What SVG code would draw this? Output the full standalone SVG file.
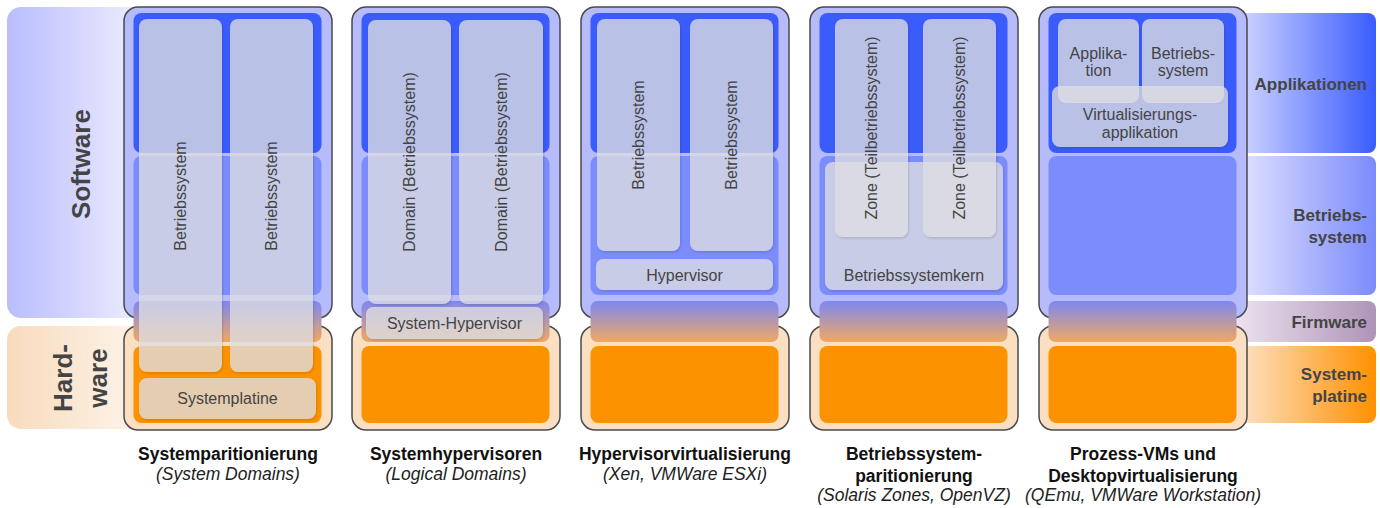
<svg xmlns="http://www.w3.org/2000/svg" xmlns:xlink="http://www.w3.org/1999/xlink" width="1380" height="508" viewBox="0 0 1380 508">
<style>
.sw{fill:#b6bbfc;stroke:#4a4a4a;stroke-width:1.5}
.hw{fill:#fbdfc3;stroke:#4a4a4a;stroke-width:1.5}
.app{fill:#3b5cfd}
.os{fill:#7b8cfb}
.fw{fill:url(#gFw)}
.mb{fill:#fd9200}
.box{fill:#e2e2e6;fill-opacity:0.75;filter:url(#sh)}
text{font-family:"Liberation Sans",Arial,sans-serif;fill:#444}
.t{font-size:16px;text-anchor:middle}
.lbl{font-size:17px;font-weight:bold;text-anchor:end}
.big{font-size:26px;font-weight:bold;text-anchor:middle}
.head{font-size:17.5px;font-weight:bold;fill:#111;text-anchor:middle}
.sub{font-size:17.5px;font-style:italic;fill:#222;text-anchor:middle}
</style>
<defs>
<linearGradient id="gFw" x1="0" y1="0" x2="0" y2="1">
<stop offset="0" stop-color="#7d87f3"/><stop offset="1" stop-color="#f0a862"/>
</linearGradient>
<linearGradient id="gSoft" x1="0" y1="0" x2="1" y2="0">
<stop offset="0" stop-color="#b9bdfd"/><stop offset="0.85" stop-color="#e8e8fe"/>
</linearGradient>
<linearGradient id="gHard" x1="0" y1="0" x2="1" y2="0">
<stop offset="0" stop-color="#f8dbbd"/><stop offset="0.85" stop-color="#fdf1e5"/>
</linearGradient>
<linearGradient id="gRApp" x1="0" y1="0" x2="1" y2="0">
<stop offset="0" stop-color="#d4d8ff"/><stop offset="1" stop-color="#3a5cfd"/>
</linearGradient>
<linearGradient id="gROs" x1="0" y1="0" x2="1" y2="0">
<stop offset="0" stop-color="#e2e4ff"/><stop offset="1" stop-color="#7b8bfb"/>
</linearGradient>
<linearGradient id="gRFw" x1="0" y1="0" x2="1" y2="0">
<stop offset="0" stop-color="#ece2ee"/><stop offset="1" stop-color="#ae94b8"/>
</linearGradient>
<linearGradient id="gRMb" x1="0" y1="0" x2="1" y2="0">
<stop offset="0" stop-color="#fde4c8"/><stop offset="1" stop-color="#ff9000"/>
</linearGradient>
<filter id="sh" x="-10%" y="-10%" width="120%" height="120%">
<feDropShadow dx="1" dy="1.5" stdDeviation="1" flood-color="#000" flood-opacity="0.18"/>
</filter>
<g id="frame">
<rect class="sw" x="0" y="7" width="208" height="311" rx="14"/>
<rect class="hw" x="0" y="326" width="208" height="104" rx="14"/>
<rect class="app" x="9.5" y="13" width="188" height="140" rx="8"/>
<rect class="os" x="9.5" y="156" width="188" height="139" rx="8"/>
<rect class="fw" x="9.5" y="301" width="188" height="41" rx="7"/>
<rect class="mb" x="9.5" y="346" width="188" height="77" rx="8"/>
</g>
</defs>

<g id="band-software">
<rect x="7" y="7" width="140" height="311" rx="14" fill="url(#gSoft)"/>
<text class="big" transform="translate(90,164) rotate(-90)">Software</text>
</g>
<g id="band-hardware">
<rect x="7" y="326" width="140" height="103" rx="14" fill="url(#gHard)"/>
<text class="big" transform="translate(72,378) rotate(-90)">Hard-</text>
<text class="big" transform="translate(107,378) rotate(-90)">ware</text>
</g>

<g id="band-applikationen">
<rect x="1236" y="13" width="140" height="140" rx="8" fill="url(#gRApp)"/>
<text class="lbl" x="1367" y="90">Applikationen</text>
</g>
<g id="band-betriebssystem">
<rect x="1236" y="156" width="140" height="139" rx="8" fill="url(#gROs)"/>
<text class="lbl" x="1367" y="221">Betriebs-</text>
<text class="lbl" x="1367" y="243">system</text>
</g>
<g id="band-firmware">
<rect x="1236" y="301" width="140" height="41" rx="8" fill="url(#gRFw)"/>
<text class="lbl" x="1367" y="328">Firmware</text>
</g>
<g id="band-systemplatine">
<rect x="1236" y="346" width="140" height="77" rx="8" fill="url(#gRMb)"/>
<text class="lbl" x="1367" y="380">System-</text>
<text class="lbl" x="1367" y="402">platine</text>
</g>

<g id="col1">
<use xlink:href="#frame" href="#frame" x="124"/>
<rect class="box" x="139" y="19" width="83" height="353" rx="8"/>
<rect class="box" x="230" y="19" width="83" height="353" rx="8"/>
<rect class="box" x="139" y="378" width="177" height="41" rx="8"/>
<text class="t" transform="translate(186,196) rotate(-90)">Betriebssystem</text>
<text class="t" transform="translate(277,196) rotate(-90)">Betriebssystem</text>
<text class="t" x="227.5" y="404">Systemplatine</text>
<text class="head" x="228" y="460">Systemparitionierung</text>
<text class="sub" x="228" y="480">(System Domains)</text>
</g>

<g id="col2">
<use xlink:href="#frame" href="#frame" x="352"/>
<rect class="box" x="368" y="20" width="83" height="284" rx="8"/>
<rect class="box" x="459" y="20" width="84" height="284" rx="8"/>
<rect class="box" x="366" y="307" width="177" height="32" rx="7"/>
<text class="t" transform="translate(415,162) rotate(-90)">Domain (Betriebssystem)</text>
<text class="t" transform="translate(506.5,162) rotate(-90)">Domain (Betriebssystem)</text>
<text class="t" x="454.5" y="329">System-Hypervisor</text>
<text class="head" x="456" y="460">Systemhypervisoren</text>
<text class="sub" x="456" y="480">(Logical Domains)</text>
</g>

<g id="col3">
<use xlink:href="#frame" href="#frame" x="581"/>
<rect class="box" x="597" y="19" width="83" height="232" rx="8"/>
<rect class="box" x="690" y="19" width="83" height="232" rx="8"/>
<rect class="box" x="596" y="259" width="177" height="31" rx="7"/>
<text class="t" transform="translate(644,135) rotate(-90)">Betriebssystem</text>
<text class="t" transform="translate(737,135) rotate(-90)">Betriebssystem</text>
<text class="t" x="684.5" y="281">Hypervisor</text>
<text class="head" x="685" y="460">Hypervisorvirtualisierung</text>
<text class="sub" x="685" y="480">(Xen, VMWare ESXi)</text>
</g>

<g id="col4">
<use xlink:href="#frame" href="#frame" x="810"/>
<rect class="box" x="825" y="162" width="178" height="128" rx="8"/>
<rect class="box" x="835" y="19" width="73" height="218" rx="8"/>
<rect class="box" x="923" y="19" width="73" height="218" rx="8"/>
<text class="t" transform="translate(877,128) rotate(-90)">Zone (Teilbetriebssystem)</text>
<text class="t" transform="translate(965,128) rotate(-90)">Zone (Teilbetriebssystem)</text>
<text class="t" x="914" y="281">Betriebssystemkern</text>
<text class="head" x="914" y="460">Betriebssystem-</text>
<text class="head" x="914" y="482">paritionierung</text>
<text class="sub" x="914" y="501">(Solaris Zones, OpenVZ)</text>
</g>

<g id="col5">
<use xlink:href="#frame" href="#frame" x="1039"/>
<rect class="box" x="1058" y="19" width="81" height="84" rx="8"/>
<rect class="box" x="1142" y="19" width="82" height="84" rx="8"/>
<rect class="box" x="1052" y="86" width="176" height="61" rx="8"/>
<text class="t" x="1098.5" y="59">Applika-</text>
<text class="t" x="1098.5" y="76">tion</text>
<text class="t" x="1183" y="59">Betriebs-</text>
<text class="t" x="1183" y="76">system</text>
<text class="t" x="1140" y="120">Virtualisierungs-</text>
<text class="t" x="1140" y="138">applikation</text>
<text class="head" x="1143" y="460">Prozess-VMs und</text>
<text class="head" x="1143" y="482">Desktopvirtualisierung</text>
<text class="sub" x="1143" y="501">(QEmu, VMWare Workstation)</text>
</g>

<g id="connectors"/>
</svg>
